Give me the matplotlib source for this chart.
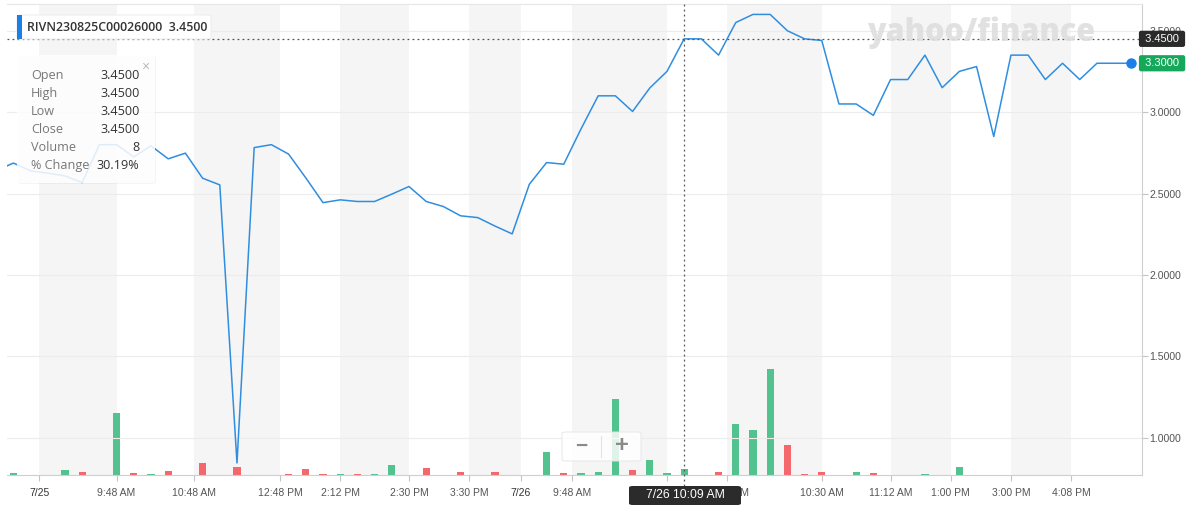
import numpy as np
import matplotlib
matplotlib.use('Agg')
from matplotlib import pyplot as plt
from matplotlib.patches import FancyBboxPatch, Rectangle
from matplotlib.lines import Line2D

# price per bar, first one sits just off the left edge (index -1)
PRICE = [2.64, 2.687, 2.639, 2.625, 2.608, 2.567, 2.80, 2.80, 2.725, 2.793,
         2.713, 2.748, 2.594, 2.553, 0.845, 2.782, 2.80, 2.742, 2.596, 2.444,
         2.461, 2.451, 2.451, 2.496, 2.543, 2.451, 2.42, 2.363, 2.352, 2.30,
         2.252, 2.557, 2.69, 2.68, 2.896, 3.10, 3.10, 3.004, 3.148, 3.25,
         3.45, 3.45, 3.35, 3.55, 3.60, 3.60, 3.50, 3.45, 3.44, 3.05,
         3.05, 2.98, 3.20, 3.20, 3.35, 3.15, 3.25, 3.28, 2.85, 3.35,
         3.35, 3.20, 3.30, 3.20, 3.30, 3.30, 3.30]

VOLUME = [3, 0, 0, 6, 4, 0, 78, 3, 1, 5, 0, 15, 0, 10, 0, 0, 1, 8, 1, 1,
          1, 1, 13, 0, 9, 0, 4, 0, 4, 0, 0, 29, 3, 3, 4, 96, 6, 19, 2, 8,
          0, 4, 65, 57, 134, 38, 1, 4, 0, 4, 3, 0, 0, 1, 0, 10, 0, 0, 0, 0,
          0, 0, 0, 0, 0, 0]
VOL_DIR = "G--GR-GRGR-R-R--RRRGRGG-R-R-R--GRGGGRGGG-RGGGRRR-GR--G-G----------"

TICK_POS = [1.5, 6, 10.5, 15.5, 19, 23, 26.5, 29.5, 32.5, 38, 41.5, 47, 51, 54.5, 58, 61.5]
# the label at 38 is fully covered by the crosshair time box in the original
TICK_LABELS = ["7/25", "9:48 AM", "10:48 AM", "12:48 PM", "2:12 PM", "2:30 PM", "3:30 PM",
               "7/26", "9:48 AM", "", "10:15 AM", "10:30 AM", "11:12 AM",
               "1:00 PM", "3:00 PM", "4:08 PM"]
BANDS = [(1.5, 6), (10.5, 15.5), (19, 23), (26.5, 29.5), (32.5, 38), (41.5, 47), (51, 54.5), (58, 61.5)]
PRICE_TICKS = [1.0, 1.5, 2.0, 2.5, 3.0, 3.5]

LAST_CLOSE = 3.30
HOVER_PRICE = 3.45
HOVER_IDX = 39

W, H = 1192, 505
fig = plt.figure(figsize=(W / 100, H / 100), dpi=100)

def fx(px):
    return px / W

def fy(py):
    return 1 - py / H

SANS = ['Liberation Sans', 'DejaVu Sans']
OPEN = ['Open Sans', 'DejaVu Sans']

ax2 = fig.add_axes([fx(7), fy(475), fx(1142) - fx(7), fy(4) - fy(475)])
ax = ax2.twinx()

# background bands + volume
for a, b in BANDS:
    ax2.axvspan(a, b, color='#f5f5f5', lw=0, zorder=0)
idx = np.arange(len(VOLUME))
cols = ['#52c28f' if d == 'G' else '#f4676d' for d in VOL_DIR]
keep = [i for i in idx if VOLUME[i] > 0]
ax2.bar([idx[i] for i in keep], [VOLUME[i] for i in keep], width=0.42,
        color=[cols[i] for i in keep], zorder=2)
ax2.set_ylim(0, 596)
ax2.set_xlim(-0.372, 65.62)
ax2.set_yticks([])
ax2.set_xticks(TICK_POS)
ax2.set_xticklabels(TICK_LABELS, fontsize=7.5, family=SANS, color='#555')
for t in ax2.get_xticklabels():
    if '/' in t.get_text():
        t.set_color('#333')
ax2.tick_params(axis='x', length=4, color='#c4c4c4', pad=5)
for s in ['left', 'right', 'top']:
    ax2.spines[s].set_visible(False)
ax2.spines['bottom'].set_color('#cfcfcf')

# price
for p in PRICE_TICKS:
    ax.axhline(p, color='#ececec', lw=0.8, zorder=1)
xs = np.arange(-1, len(PRICE) - 1)
ax.plot(xs, PRICE, color='#2f8ee0', lw=1.1, zorder=3)
ax.plot(xs[-1], PRICE[-1], 'o', ms=6.5, color='#1a7fe8', zorder=4)
ax.axhline(HOVER_PRICE, color='#555', lw=0.9, ls=(0, (1.5, 2.5)), zorder=4)
ax.axvline(HOVER_IDX, ymin=-0.024, color='#555', lw=0.9, ls=(0, (1.5, 2.5)), zorder=4, clip_on=False)
ax.set_ylim(0.771, 3.664)
ax.set_yticks(PRICE_TICKS)
ax.set_yticklabels(['%.4f' % p for p in PRICE_TICKS], fontsize=7.6, family=SANS, color='#555')
ax.tick_params(axis='y', length=4, color='#c4c4c4', pad=1.5)
ax.spines['left'].set_visible(False)
ax.spines['bottom'].set_visible(False)
ax.spines['right'].set_color('#cfcfcf')
ax.spines['top'].set_color('#e6e6e6')

# right side value tags
ax.text(1.0, HOVER_PRICE, ' 3.4500 ', transform=ax.get_yaxis_transform(), va='center', ha='left',
        fontsize=8, family=SANS, color='white', zorder=6, clip_on=False,
        bbox=dict(boxstyle='round,pad=0.28,rounding_size=0.2', fc='#2b2b2b', ec='none'))
ax.text(1.0, LAST_CLOSE, ' %.4f ' % LAST_CLOSE, transform=ax.get_yaxis_transform(), va='center', ha='left',
        fontsize=8, family=SANS, color='white', zorder=6, clip_on=False,
        bbox=dict(boxstyle='round,pad=0.28,rounding_size=0.2', fc='#15a85a', ec='none'))

# watermark
fig.text(fx(981), fy(33), 'yahoo/finance', fontsize=22, fontweight='heavy', family=OPEN,
         color='#dedede', ha='center', va='center', alpha=0.9, zorder=2)

# symbol label
fig.patches.append(FancyBboxPatch((fx(17), fy(39)), fx(211) - fx(17), fy(15) - fy(39),
                                  boxstyle='round,pad=0,rounding_size=0.003', fc='white',
                                  ec='#eeeeee', lw=0.8, transform=fig.transFigure, zorder=5))
fig.patches.append(Rectangle((fx(17), fy(39)), fx(22) - fx(17), fy(15) - fy(39), fc='#1a7fe8',
                             ec='none', transform=fig.transFigure, zorder=5))
fig.text(fx(27), fy(27.5), 'RIVN230825C00026000  3.4500', fontsize=8.9, fontweight='semibold',
         family=OPEN, color='#333', va='center', ha='left', zorder=6)

# tooltip
fig.patches.append(FancyBboxPatch((fx(18), fy(184)), fx(156) - fx(18), fy(56) - fy(184),
                                  boxstyle='round,pad=0,rounding_size=0.004', fc='black',
                                  alpha=0.04, ec='none', transform=fig.transFigure, zorder=5))
fig.patches.append(FancyBboxPatch((fx(17), fy(183)), fx(155) - fx(17), fy(55) - fy(183),
                                  boxstyle='round,pad=0,rounding_size=0.004', fc='white',
                                  alpha=0.86, ec='none', transform=fig.transFigure, zorder=5))
rows = ['Open', 'High', 'Low', 'Close', 'Volume', '% Change']
vals = ['3.4500', '3.4500', '3.4500', '3.4500', '8', '30.19%']
for k, (r, v) in enumerate(zip(rows, vals)):
    yy = 75.5 + 18.05 * k
    fig.text(fx(31), fy(yy), r, fontsize=9.1, family=OPEN, color='#777', va='center', ha='left', zorder=6)
    fig.text(fx(139.5), fy(yy), v, fontsize=9.1, family=OPEN, color='#333', va='center', ha='right', zorder=6)
fig.text(fx(145), fy(67), '\u00d7', fontsize=10, family=SANS, color='#bbbbbb', va='center', ha='center', zorder=6)

# zoom buttons
fig.patches.append(FancyBboxPatch((fx(562), fy(461)), fx(641) - fx(562), fy(432) - fy(461),
                                  boxstyle='round,pad=0,rounding_size=0.003', fc='white', alpha=0.82,
                                  ec='#e6e6e6', lw=0.8, transform=fig.transFigure, zorder=5))
fig.add_artist(Line2D([fx(601), fx(601)], [fy(436), fy(457)], color='#e3e3e3', lw=0.8, zorder=6))
fig.text(fx(581), fy(446), '\u2212', fontsize=15, fontweight='bold', family=SANS, color='#8a8a8a',
         va='center', ha='center', zorder=6)
fig.text(fx(622), fy(446), '+', fontsize=17, fontweight='bold', family=SANS, color='#8a8a8a',
         va='center', ha='center', zorder=6)

# crosshair time label
fig.patches.append(FancyBboxPatch((fx(629), fy(505)), fx(741) - fx(629), fy(486) - fy(505),
                                  boxstyle='round,pad=0,rounding_size=0.003', fc='#2b2b2b', ec='none',
                                  transform=fig.transFigure, zorder=5))
fig.text(fx(685), fy(495.5), '7/26 10:09 AM', fontsize=8.8, family=SANS, color='white',
         va='center', ha='center', zorder=6)

fig.savefig('out.png', dpi=100)
